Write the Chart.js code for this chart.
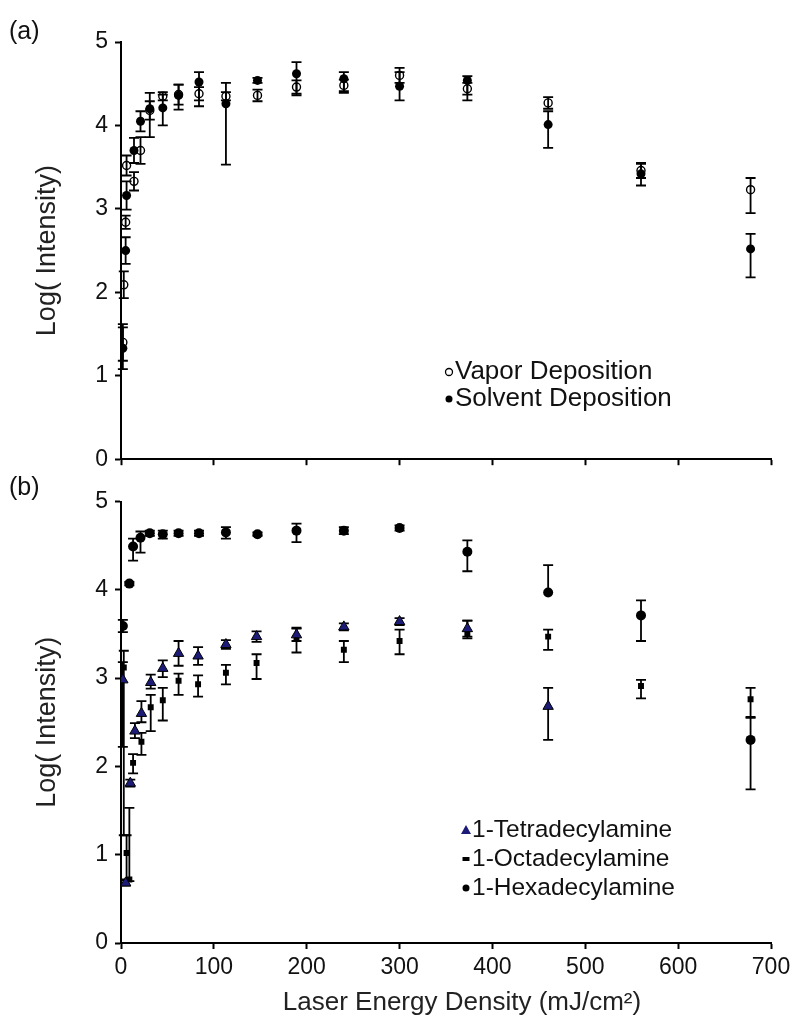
<!DOCTYPE html>
<html>
<head>
<meta charset="utf-8">
<script src="https://cdn.jsdelivr.net/npm/chart.js@4.4.1/dist/chart.umd.min.js"></script>
<style>
  html, body { margin: 0; padding: 0; background: #fff; }
  #wrap { position: relative; width: 800px; height: 1029px; overflow: hidden; }
  .panel { position: absolute; left: 0; width: 800px; }
  #boxA { top: 0; height: 480px; }
  #boxB { top: 480px; height: 549px; }
  .tag { position: absolute; left: 9px; font: 25px "Liberation Sans", Arial, sans-serif; color: #111; }
</style>
</head>
<body>
<div id="wrap">
  <div class="panel" id="boxA"><canvas id="chartA" width="800" height="480"></canvas></div>
  <div class="panel" id="boxB"><canvas id="chartB" width="800" height="549"></canvas></div>
  <div class="tag" style="top:16px">(a)</div>
  <div class="tag" style="top:472px">(b)</div>
</div>
<script>
// (a) 蒸鍍 / 溶液 沉積
const vaporX = [2, 3, 5, 6, 14, 21, 31, 45, 62, 84, 113, 147, 189, 240, 300, 373, 460, 560, 678];
const vaporY = [1.40, 2.09, 2.84, 3.52, 3.33, 3.70, 4.18, 4.35, 4.37, 4.38, 4.35, 4.36, 4.46, 4.48, 4.60, 4.44, 4.27, 3.46, 3.23];
const vaporUp = [0.22, 0.16, 0.08, 0.12, 0.11, 0.16, 0.11, 0.05, 0.12, 0.08, 0.05, 0.07, 0.08, 0.07, 0.09, 0.07, 0.07, 0.09, 0.14];
const vaporDown = [0.22, 0.16, 0.08, 0.12, 0.11, 0.16, 0.11, 0.05, 0.12, 0.08, 0.05, 0.07, 0.08, 0.07, 0.09, 0.07, 0.07, 0.09, 0.28];

const solventX = [2, 5, 6, 14, 21, 31, 45, 62, 84, 113, 147, 189, 240, 300, 373, 460, 560, 678];
const solventY = [1.33, 2.50, 3.16, 3.70, 4.05, 4.20, 4.21, 4.36, 4.52, 4.26, 4.54, 4.62, 4.56, 4.47, 4.54, 4.01, 3.42, 2.52];
const solventUp = [0.25, 0.16, 0.17, 0.15, 0.12, 0.19, 0.16, 0.13, 0.12, 0.25, 0.03, 0.14, 0.08, 0.17, 0.05, 0.16, 0.12, 0.18];
const solventDown = [0.25, 0.16, 0.17, 0.15, 0.12, 0.34, 0.21, 0.17, 0.29, 0.73, 0.03, 0.26, 0.17, 0.17, 0.24, 0.28, 0.14, 0.34];

// (b) 三種胺
const tetraX = [2, 5, 10, 15, 22, 32, 45, 62, 83, 113, 146, 189, 240, 300, 373, 460];
const tetraY = [2.98, 0.68, 1.81, 2.40, 2.60, 2.95, 3.11, 3.28, 3.25, 3.38, 3.47, 3.49, 3.58, 3.64, 3.56, 2.68];
const tetraUp = [0.20, 0.03, 0.04, 0.09, 0.14, 0.09, 0.09, 0.14, 0.10, 0.05, 0.06, 0.07, 0.04, 0.04, 0.09, 0.21];
const tetraDown = [0.76, 0.03, 0.04, 0.08, 0.10, 0.07, 0.10, 0.14, 0.10, 0.05, 0.06, 0.07, 0.04, 0.04, 0.09, 0.38];

const octaX = [3, 6, 9, 13, 22, 32, 45, 62, 83, 113, 146, 189, 240, 300, 373, 460, 560, 678];
const octaY = [3.12, 1.02, 0.72, 2.04, 2.28, 2.67, 2.75, 2.97, 2.93, 3.06, 3.17, 3.45, 3.32, 3.42, 3.51, 3.47, 2.91, 2.76];
const octaUp = [0.19, 0.20, 0.81, 0.10, 0.10, 0.14, 0.14, 0.08, 0.10, 0.09, 0.10, 0.12, 0.10, 0.13, 0.14, 0.08, 0.07, 0.13];
const octaDown = [1.90, 0.30, 0.02, 0.12, 0.15, 0.27, 0.23, 0.16, 0.14, 0.13, 0.18, 0.16, 0.14, 0.15, 0.06, 0.15, 0.14, 0.21];

const hexaX = [2, 9, 13, 21, 31, 45, 62, 84, 113, 147, 189, 240, 300, 373, 460, 560, 678];
const hexaY = [3.59, 4.07, 4.49, 4.59, 4.64, 4.63, 4.64, 4.64, 4.65, 4.63, 4.67, 4.67, 4.70, 4.43, 3.97, 3.71, 2.30];
const hexaUp = [0.07, 0.02, 0.09, 0.07, 0.03, 0.04, 0.03, 0.03, 0.06, 0.02, 0.08, 0.04, 0.03, 0.13, 0.31, 0.17, 0.26];
const hexaDown = [0.07, 0.02, 0.16, 0.17, 0.03, 0.05, 0.03, 0.03, 0.07, 0.02, 0.13, 0.04, 0.03, 0.22, 0.00, 0.29, 0.56];

const yTicks = [0, 1, 2, 3, 4, 5];
const xTicks = [0, 100, 200, 300, 400, 500, 600, 700];
const xTitle = 'Laser Energy Density (mJ/cm²)';

const FONT = '"Liberation Sans", Arial, sans-serif';
Chart.defaults.font.family = FONT;
Chart.defaults.color = '#111';

function pts(xs, ys) {
    return xs.map((x, i) => ({ x: x, y: ys[i] }));
}

// 誤差棒
const errorBars = {
    id: 'errorBars',
    beforeDatasetsDraw(chart) {
        const { ctx, scales: { x, y } } = chart;
        const cap = 5;
        ctx.save();
        ctx.strokeStyle = '#000';
        ctx.lineWidth = 1.8;
        chart.data.datasets.forEach(ds => {
            ds.data.forEach((p, j) => {
                const px = x.getPixelForValue(p.x);
                const top = y.getPixelForValue(p.y + ds.errUp[j]);
                const bot = y.getPixelForValue(p.y - ds.errDown[j]);
                ctx.beginPath();
                ctx.moveTo(px, top);
                ctx.lineTo(px, bot);
                if (ds.errUp[j] > 0) { ctx.moveTo(px - cap, top); ctx.lineTo(px + cap, top); }
                if (ds.errDown[j] > 0) { ctx.moveTo(px - cap, bot); ctx.lineTo(px + cap, bot); }
                ctx.stroke();
            });
        });
        ctx.restore();
    }
};

// 圖例 (手動放置)
const sketchLegend = {
    id: 'sketchLegend',
    afterDraw(chart, args, opts) {
        const ctx = chart.ctx;
        ctx.save();
        ctx.font = opts.size + 'px ' + FONT;
        ctx.textBaseline = 'middle';
        opts.items.forEach((it, i) => {
            const y = opts.y + i * opts.gap;
            const mx = opts.x;
            ctx.beginPath();
            if (it.marker === 'open') {
                ctx.arc(mx, y, 3.5, 0, Math.PI * 2);
                ctx.lineWidth = 1.3; ctx.strokeStyle = '#000'; ctx.stroke();
            } else if (it.marker === 'dot') {
                ctx.arc(mx, y, 3.5, 0, Math.PI * 2);
                ctx.fillStyle = '#000'; ctx.fill();
            } else if (it.marker === 'tri') {
                ctx.moveTo(mx, y - 5); ctx.lineTo(mx + 5, y + 4); ctx.lineTo(mx - 5, y + 4); ctx.closePath();
                ctx.fillStyle = '#1c1c78'; ctx.fill();
            } else if (it.marker === 'rect') {
                ctx.rect(mx - 3.5, y - 2, 7, 4);
                ctx.fillStyle = '#000'; ctx.fill();
            }
            ctx.fillStyle = '#111';
            ctx.fillText(it.text, opts.x + 6, y);
        });
        ctx.restore();
    }
};

// x 軸標題 (略偏右)
const xTitleNote = {
    id: 'xTitleNote',
    afterDraw(chart, args, opts) {
        if (!opts.text) return;
        const ctx = chart.ctx;
        ctx.save();
        ctx.font = '26px ' + FONT;
        ctx.fillStyle = '#222';
        ctx.textAlign = 'center';
        ctx.textBaseline = 'middle';
        ctx.fillText(opts.text, opts.x, opts.y);
        ctx.restore();
    }
};

function yAxis(width) {
    return {
        min: 0, max: 5,
        afterBuildTicks: s => { s.ticks = yTicks.map(v => ({ value: v })); },
        ticks: { font: { size: 23 }, color: '#111', padding: 7 },
        grid: { drawOnChartArea: false, drawTicks: true, tickLength: 6, tickColor: '#000', tickWidth: 2 },
        border: { display: true, color: '#000', width: 2 },
        title: { display: true, text: 'Log( Intensity)', font: { size: 27 }, color: '#222', padding: 0 },
        afterFit: s => { s.width = width; }
    };
}

function xAxis(height, showLabels) {
    return {
        type: 'linear', min: 0, max: 700,
        afterBuildTicks: s => { s.ticks = xTicks.map(v => ({ value: v })); },
        ticks: { display: showLabels, font: { size: 23 }, color: '#111', padding: 5, maxRotation: 0 },
        grid: { drawOnChartArea: false, drawTicks: true, tickLength: 6, tickColor: '#000', tickWidth: 2 },
        border: { display: true, color: '#000', width: 2 },
        afterFit: s => { s.height = height; }
    };
}

const common = {
    responsive: false,
    animation: false,
    events: [],
    plugins: { legend: { display: false }, tooltip: { enabled: false } }
};

new Chart(document.getElementById('chartA'), {
    type: 'scatter',
    data: {
        datasets: [
            {
                label: 'Vapor Deposition', data: pts(vaporX, vaporY), errUp: vaporUp, errDown: vaporDown,
                pointStyle: 'circle', pointRadius: 4, borderWidth: 1.4, borderColor: '#000', backgroundColor: 'rgba(0,0,0,0)'
            },
            {
                label: 'Solvent Deposition', data: pts(solventX, solventY), errUp: solventUp, errDown: solventDown,
                pointStyle: 'circle', pointRadius: 4.5, borderWidth: 0, borderColor: '#000', backgroundColor: '#000'
            }
        ]
    },
    options: {
        ...common,
        layout: { padding: { top: 42, right: 29, left: 31, bottom: 0 } },
        scales: { x: xAxis(12, false), y: yAxis(90) },
        plugins: {
            ...common.plugins,
            sketchLegend: {
                x: 449, y: 372, gap: 27, size: 26,
                items: [{ marker: 'open', text: 'Vapor Deposition' }, { marker: 'dot', text: 'Solvent Deposition' }]
            },
            xTitleNote: { text: '' }
        }
    },
    plugins: [errorBars, sketchLegend, xTitleNote]
});

new Chart(document.getElementById('chartB'), {
    type: 'scatter',
    data: {
        datasets: [
            {
                label: '1-Tetradecylamine', data: pts(tetraX, tetraY), errUp: tetraUp, errDown: tetraDown,
                pointStyle: 'triangle', pointRadius: 6, borderWidth: 1, borderColor: '#000', backgroundColor: '#1c1c78'
            },
            {
                label: '1-Octadecylamine', data: pts(octaX, octaY), errUp: octaUp, errDown: octaDown,
                pointStyle: 'rect', pointRadius: 4.2, borderWidth: 0, borderColor: '#000', backgroundColor: '#000'
            },
            {
                label: '1-Hexadecylamine', data: pts(hexaX, hexaY), errUp: hexaUp, errDown: hexaDown,
                pointStyle: 'circle', pointRadius: 5, borderWidth: 0, borderColor: '#000', backgroundColor: '#000'
            }
        ]
    },
    options: {
        ...common,
        layout: { padding: { top: 21.5, right: 29, left: 31, bottom: 10 } },
        scales: { x: xAxis(76, true), y: yAxis(90) },
        plugins: {
            ...common.plugins,
            sketchLegend: {
                x: 466, y: 350, gap: 29, size: 24.5,
                items: [
                    { marker: 'tri', text: '1-Tetradecylamine' },
                    { marker: 'rect', text: '1-Octadecylamine' },
                    { marker: 'dot', text: '1-Hexadecylamine' }
                ]
            },
            xTitleNote: { text: xTitle, x: 462, y: 523 }
        }
    },
    plugins: [errorBars, sketchLegend, xTitleNote]
});
</script>
</body>
</html>
